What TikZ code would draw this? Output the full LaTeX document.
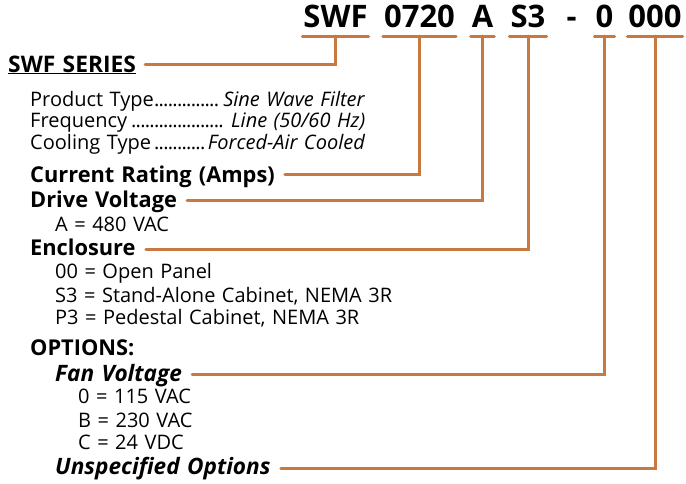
\documentclass[tikz,border=0pt]{standalone}
\usepackage{fontspec}
\setmainfont[WordSpace=1.25]{Open Sans}
\definecolor{rust}{RGB}{200,121,64}
\newcommand{\dotlead}{\leaders\hbox to 4.6pt{\hss.\hss}\hfill}
\begin{document}
\begin{tikzpicture}[x=1pt,y=-1pt,
  conn/.style={draw=rust,line width=3pt,line cap=round},
  codeseg/.style={inner sep=0pt,anchor=base,font=\fontsize{31}{31}\selectfont\bfseries},
  head/.style={inner sep=0pt,anchor=base west,font=\fontsize{21.8}{21.8}\selectfont\bfseries},
  ihead/.style={inner sep=0pt,anchor=base west,font=\fontsize{22.6}{22.6}\selectfont\bfseries\itshape},
  item/.style={inner sep=0pt,anchor=base west,font=\fontsize{20}{20}\selectfont}]
\useasboundingbox (0,0) rectangle (686,483);
% code segments
\node[codeseg] (swf) at (335.5,27) {SWF};
\node[codeseg] (amp) at (419.5,27) {0720};
\node[codeseg] (vol) at (482.5,27) {A};
\node[codeseg] (enc) at (528,27) {S3};
\node[codeseg] (dash) at (571.5,27) {-};
\node[codeseg] (fan) at (604.5,27) {0};
\node[codeseg] (uns) at (655,27) {000};
% stems (underline centres)
\foreach \n in {swf,amp,vol,enc,fan,uns}{
  \draw[conn] ([shift={(-1pt,-9pt)}]\n.base west) -- ([shift={(1pt,-9pt)}]\n.base east);
  \coordinate (\n-s) at ([yshift=-9pt]\n.base);
}
% labels
\node[head,font=\fontsize{22.8}{22.8}\selectfont\bfseries] (series) at (8,72) {\underline{SWF SERIES}};
\node[item] (p1) at (30,106) {\hbox to 335pt{Product Type\dotlead\textit{Sine Wave Filter}}};
\node[item] (p2) at (30,127.5) {\hbox to 335pt{Frequency\dotlead\ \textit{Line (50/60 Hz)}}};
\node[item] (p3) at (30,149) {\hbox to 335pt{Cooling Type\dotlead\textit{Forced-Air Cooled}}};
\node[head] (cur) at (30,182) {Current Rating (Amps)};
\node[head] (drv) at (30,207) {Drive Voltage};
\node[item] (d1) at (55,231) {A = 480 VAC};
\node[head] (encl) at (30,255) {Enclosure};
\node[item] (e1) at (55,278) {00 = Open Panel};
\node[item] (e2) at (55,302) {S3 = Stand-Alone Cabinet, NEMA 3R};
\node[item] (e3) at (55,324) {P3 = Pedestal Cabinet, NEMA 3R};
\node[head] (opt) at (30,355) {OPTIONS:};
\node[ihead] (fv) at (55,381) {Fan Voltage};
\node[item] (f1) at (78,403) {0 = 115 VAC};
\node[item] (f2) at (78,427) {B = 230 VAC};
\node[item] (f3) at (78,449) {C = 24 VDC};
\node[ihead] (uo) at (55,474) {Unspecified Options};
% connectors
\draw[conn] ([shift={(9pt,8pt)}]series.base east) -| (swf-s);
\draw[conn] ([shift={(10pt,8pt)}]cur.base east) -| (amp-s);
\draw[conn] ([shift={(10pt,7pt)}]drv.base east) -| (vol-s);
\draw[conn] ([shift={(10pt,6pt)}]encl.base east) -| (enc-s);
\draw[conn] ([shift={(10pt,7pt)}]fv.base east) -| (fan-s);
\draw[conn] ([shift={(10pt,6pt)}]uo.base east) -| (uns-s);
\end{tikzpicture}
\end{document}
